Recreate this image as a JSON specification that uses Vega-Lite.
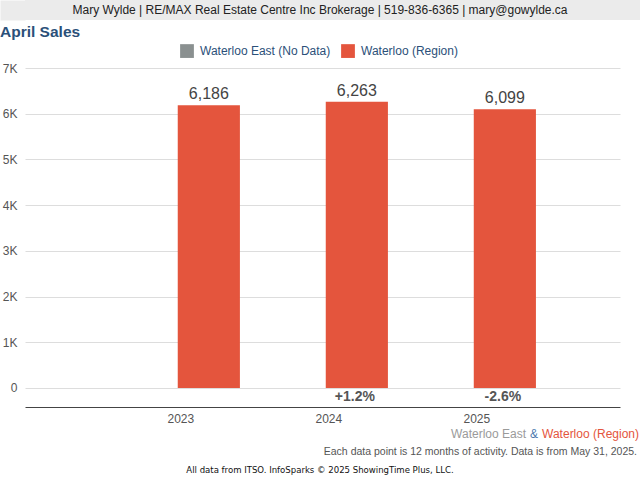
{
  "$schema": "https://vega.github.io/schema/vega-lite/v6.json",
  "padding": 0,
  "spacing": 4,
  "columns": 1,
  "background": "white",
  "resolve": {"legend": {"color": "independent"}, "scale": {"color": "independent"}},
  "datasets": {
    "sales": [
      {"year": "2023", "series": "Waterloo (Region)", "sales": 6186, "change": ""},
      {"year": "2024", "series": "Waterloo (Region)", "sales": 6263, "change": "+1.2%"},
      {"year": "2025", "series": "Waterloo (Region)", "sales": 6099, "change": "-2.6%"}
    ],
    "footer": [
      {"line": "1", "piece": "region", "text": "Waterloo (Region)"},
      {"line": "1", "piece": "amp", "text": "&"},
      {"line": "1", "piece": "area", "text": "Waterloo East"},
      {"line": "2", "piece": "note", "text": "Each data point is 12 months of activity. Data is from May 31, 2025."},
      {"line": "3", "piece": "credit", "text": "All data from ITSO. InfoSparks © 2025 ShowingTime Plus, LLC."}
    ]
  },
  "concat": [
    {
      "width": 615,
      "height": 20,
      "view": {"fill": "#ebebeb", "stroke": null},
      "data": {"values": [{"text": "Mary Wylde | RE/MAX Real Estate Centre Inc Brokerage | 519-836-6365 | mary@gowylde.ca"}]},
      "mark": {"type": "text", "dx": -12.5, "font": "Liberation Sans", "fontSize": 12, "color": "#222"},
      "encoding": {
        "y": {
          "field": "text",
          "type": "nominal",
          "axis": {"title": null, "labels": false, "ticks": false, "grid": false, "domainColor": "#ebebeb", "domainWidth": 25, "offset": 12.5}
        },
        "text": {"field": "text"}
      }
    },
    {
      "width": 595,
      "height": 339,
      "title": {
        "text": "April Sales",
        "anchor": "start",
        "frame": "bounds",
        "font": "Liberation Sans",
        "fontSize": 15.5,
        "fontWeight": "bold",
        "color": "#2b5079",
        "offset": 4
      },
      "data": {"name": "sales"},
      "encoding": {
        "x": {
          "field": "year",
          "type": "nominal",
          "scale": {"type": "band", "domain": ["2023", "2024", "2025"], "paddingInner": 0.58, "paddingOuter": 0.8, "align": 0.645},
          "axis": {
            "title": null,
            "labelAngle": 0,
            "labelOffset": -28,
            "labelPadding": 6,
            "labelFont": "Liberation Sans",
            "labelFontSize": 12,
            "labelColor": "#555",
            "ticks": false,
            "domainColor": "#444",
            "domainWidth": 1,
            "grid": false
          }
        }
      },
      "layer": [
        {
          "mark": {"type": "bar"},
          "encoding": {
            "y": {
              "field": "sales",
              "type": "quantitative",
              "scale": {"domain": [-416, 7000], "nice": false, "zero": false},
              "axis": {
                "title": null,
                "values": [0, 1000, 2000, 3000, 4000, 5000, 6000, 7000],
                "labelExpr": "datum.value == 0 ? '0' : (datum.value / 1000) + 'K'",
                "labelFont": "Liberation Sans",
                "labelFontSize": 12,
                "labelColor": "#555",
                "labelPadding": 8,
                "ticks": false,
                "domain": false,
                "grid": true,
                "gridColor": "#dddddd",
                "minExtent": 25,
                "maxExtent": 25
              }
            },
            "color": {
              "field": "series",
              "type": "nominal",
              "scale": {"domain": ["Waterloo East (No Data)", "Waterloo (Region)"], "range": ["#8a9090", "#e4553d"]},
              "legend": {
                "title": null,
                "orient": "none",
                "direction": "horizontal",
                "legendX": 155,
                "legendY": -24,
                "symbolType": "square",
                "symbolSize": 190,
                "symbolStrokeWidth": 0,
                "symbolOpacity": 1,
                "labelFont": "Liberation Sans",
                "labelFontSize": 12,
                "labelColor": "#2b5079",
                "labelOffset": 6,
                "columnPadding": 10
              }
            }
          }
        },
        {
          "mark": {"type": "text", "baseline": "bottom", "dy": -3, "font": "Liberation Sans", "fontSize": 16, "color": "#444"},
          "encoding": {
            "y": {"field": "sales", "type": "quantitative"},
            "text": {"field": "sales", "type": "quantitative", "format": ",d"}
          }
        },
        {
          "mark": {"type": "text", "baseline": "middle", "font": "Liberation Sans", "fontSize": 14, "fontWeight": "bold", "color": "#555", "dx": -2},
          "encoding": {
            "y": {"datum": -200, "type": "quantitative"},
            "text": {"field": "change"}
          }
        }
      ]
    },
    {
      "width": 615,
      "height": 36,
      "view": {"stroke": null},
      "data": {"name": "footer"},
      "encoding": {
        "y": {"field": "line", "type": "ordinal", "scale": {"type": "point", "padding": 0}, "axis": null}
      },
      "layer": [
        {
          "transform": [{"filter": "datum.piece == 'region'"}],
          "mark": {"type": "text", "align": "right", "baseline": "middle", "dx": -1, "font": "Liberation Sans", "fontSize": 12, "color": "#e4553d"},
          "encoding": {"x": {"value": "width"}, "text": {"field": "text"}}
        },
        {
          "transform": [{"filter": "datum.piece == 'amp'"}],
          "mark": {"type": "text", "align": "right", "baseline": "middle", "dx": -102, "font": "Liberation Sans", "fontSize": 12, "color": "#4a78ad"},
          "encoding": {"x": {"value": "width"}, "text": {"field": "text"}}
        },
        {
          "transform": [{"filter": "datum.piece == 'area'"}],
          "mark": {"type": "text", "align": "right", "baseline": "middle", "dx": -114, "font": "Liberation Sans", "fontSize": 12, "color": "#9a9a9a"},
          "encoding": {"x": {"value": "width"}, "text": {"field": "text"}}
        },
        {
          "transform": [{"filter": "datum.piece == 'note'"}],
          "mark": {"type": "text", "align": "right", "baseline": "middle", "dx": -3, "font": "Liberation Sans", "fontSize": 10.5, "color": "#555"},
          "encoding": {"x": {"value": "width"}, "text": {"field": "text"}}
        },
        {
          "transform": [{"filter": "datum.piece == 'credit'"}],
          "mark": {"type": "text", "align": "center", "baseline": "middle", "dx": -12.5, "font": "Liberation Sans Narrow, DejaVu Sans Condensed", "fontSize": 9.5, "color": "#111"},
          "encoding": {"text": {"field": "text"}}
        }
      ]
    }
  ],
  "config": {
    "view": {"stroke": null},
    "bar": {"color": "#e4553d"}
  }
}
